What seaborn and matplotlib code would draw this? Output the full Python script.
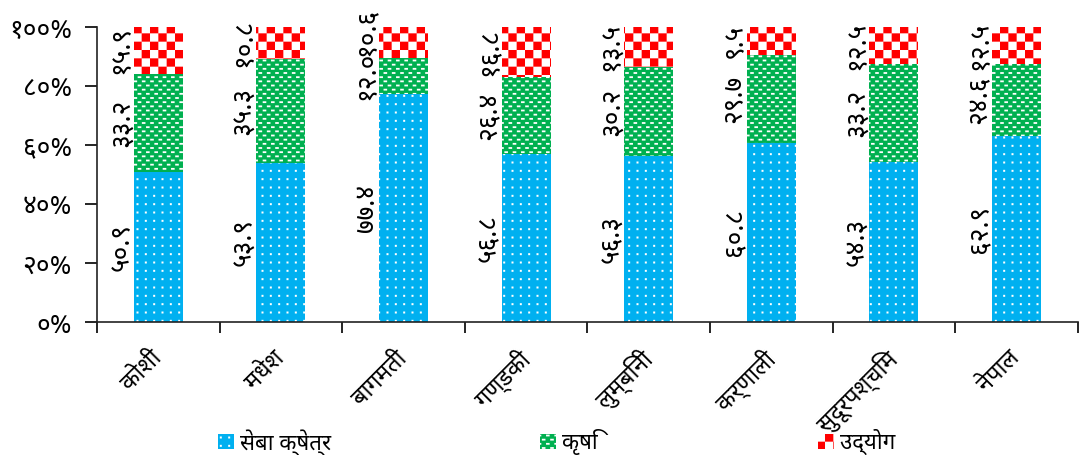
import warnings
import matplotlib
matplotlib.use("Agg")
import matplotlib.pyplot as plt
import matplotlib.hatch as mhatch
from matplotlib.path import Path
from matplotlib.patches import Patch
import numpy as np
import pandas as pd
import seaborn as sns

warnings.filterwarnings("ignore")

# province-wise share of employment by sector (%)
regions = ['कोशी', 'मधेश', 'बागमती', 'गण्डकी', 'लुम्बिनी', 'कर्णाली', 'सुदूरपश्चिम', 'नेपाल']
service = [50.9, 53.9, 77.4, 56.8, 56.3, 60.8, 54.3, 62.9]
agri = [33.2, 35.3, 12.0, 26.4, 30.2, 29.7, 33.2, 24.6]
industry = [15.9, 10.8, 10.6, 16.8, 13.5, 9.5, 12.5, 12.5]
sectors = ['सेबा क्षेत्र', 'कृषि', 'उद्योग']
ytick_vals = [0, 20, 40, 60, 80, 100]

DEV = str.maketrans('0123456789', '०१२३४५६७८९')


def dev(s):
    return str(s).translate(DEV)


# excel-like pattern fills as custom hatches
class CellHatch(mhatch.HatchPatternBase):
    char = None

    def __init__(self, hatch, density):
        self.rects = self.make_rects() if (hatch and self.char in hatch) else []
        self.num_vertices = 5 * len(self.rects)

    def set_vertices_and_codes(self, vertices, codes):
        for k, (x, y, w, h) in enumerate(self.rects):
            vertices[5 * k:5 * k + 5] = [(x, y), (x + w, y), (x + w, y + h), (x, y + h), (x, y)]
            codes[5 * k:5 * k + 5] = [Path.MOVETO, Path.LINETO, Path.LINETO, Path.LINETO, Path.CLOSEPOLY]


class Checker(CellHatch):
    char = 'c'

    def make_rects(self):
        n = 6
        s = 1 / (2 * n)
        out = []
        for i in range(n):
            for j in range(n):
                out.append((i / n, j / n, s, s))
                out.append((i / n + s, j / n + s, s, s))
        return out


class Dots(CellHatch):
    char = 'd'

    def make_rects(self):
        n = 12
        d = 0.02
        return [((i + 0.5) / n - d / 2, (j + 0.5) / n - d / 2, d, d) for i in range(n) for j in range(n)]


class Dashes(CellHatch):
    char = 'h'

    def make_rects(self):
        rows, cols = 24, 12
        out = []
        for r in range(rows):
            for c in range(cols):
                out.append((c / cols + (r % 2) / (2 * cols) + 0.002, r / rows + 0.011, 0.036, 0.018))
        return out


mhatch._hatch_types.extend([Checker, Dots, Dashes])

plt.rcParams['font.family'] = ['Noto Sans Devanagari', 'DejaVu Sans']
plt.rcParams['hatch.linewidth'] = 0.01

blue, green, red = '#00B0F0', '#00B050', '#FF0000'
styles = [(blue, 'white', 'd'), (green, 'white', 'h'), ('white', red, 'c')]

df = pd.DataFrame({'region': regions, 'service': service, 'agri': agri, 'industry': industry})
df['s1'] = df['service']
df['s2'] = df['service'] + df['agri']
df['s3'] = df['s2'] + df['industry']

fig = plt.figure(figsize=(10.81, 4.55), dpi=100)
ax = fig.add_axes([0.0897, 0.2923, 0.9073, 0.6484])

# draw back to front: full stack, then service+agri, then service
for col, (fc, hc, h) in zip(['s3', 's2', 's1'], styles[::-1]):
    n0 = len(ax.patches)
    sns.barplot(data=df, x='region', y=col, order=regions, width=0.4, saturation=1,
                color=fc, ax=ax, errorbar=None)
    for p in ax.patches[n0:]:
        p.set_facecolor(fc)
        p.set_edgecolor(hc)
        p.set_linewidth(0)
        p.set_hatch(h)

# value labels, rotated, left of each bar; push up a label that would hit the one below
min_gap = 15
for i, row in df.iterrows():
    bottoms = [0, row['s1'], row['s2']]
    vals = [row['service'], row['agri'], row['industry']]
    prev = -100
    for b, v in zip(bottoms, vals):
        yc = max(b + v / 2, prev + min_gap)
        prev = yc
        ax.text(i - 0.3, yc, dev(f'{v:.1f}'), rotation=90, ha='center', va='center',
                fontsize=19, color='black')

ax.set_xlim(-0.5, len(regions) - 0.5)
ax.set_ylim(0, 100)
ax.set_yticks(ytick_vals)
ax.set_yticklabels([dev(v) + '%' for v in ytick_vals], fontsize=19)
ax.set_xticks(range(len(regions)))
ax.set_xticklabels(regions, rotation=45, ha='right', va='center', rotation_mode='anchor', fontsize=17)
ax.set_xticks(np.arange(-0.5, len(regions)), minor=True)
ax.tick_params(axis='x', which='major', length=0, pad=24)
ax.tick_params(axis='x', which='minor', length=8, width=1.2, direction='out')
ax.tick_params(axis='y', length=9, width=1.2, direction='out', pad=9)
ax.set_xlabel('')
ax.set_ylabel('')
for s in ['top', 'right']:
    ax.spines[s].set_visible(False)
for s in ['left', 'bottom']:
    ax.spines[s].set_linewidth(1.2)
    ax.spines[s].set_color('#222222')

# legend entries spread out along the bottom, as in the source sheet
legend_x = [0.2017, 0.4995, 0.7567]
for (fc, hc, h), name, lx in zip(styles, sectors, legend_x):
    fig.legend([Patch(facecolor=fc, edgecolor=hc, linewidth=0, hatch=h)], [name],
               loc='center left', bbox_to_anchor=(lx, 0.028), frameon=False, fontsize=16,
               handlelength=0.7, handleheight=0.7, handletextpad=0.3,
               borderpad=0, borderaxespad=0)

fig.savefig('out.png', dpi=100)
